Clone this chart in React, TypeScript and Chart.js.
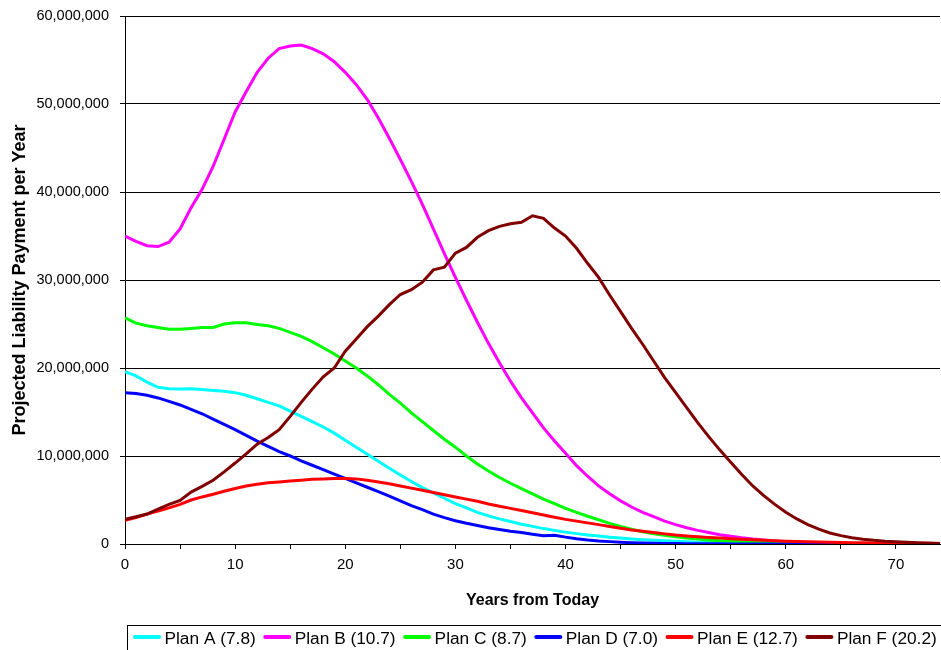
import React, { useEffect, useRef } from 'react';
import { Chart, registerables } from 'chart.js';

Chart.register(...registerables);

const FONT = "'Liberation Sans', Arial, Helvetica, sans-serif";

// Years from today (x categories)
const YEARS = [
  0, 1, 2, 3, 4, 5, 6, 7, 8, 9,
  10, 11, 12, 13, 14, 15, 16, 17, 18, 19,
  20, 21, 22, 23, 24, 25, 26, 27, 28, 29,
  30, 31, 32, 33, 34, 35, 36, 37, 38, 39,
  40, 41, 42, 43, 44, 45, 46, 47, 48, 49,
  50, 51, 52, 53, 54, 55, 56, 57, 58, 59,
  60, 61, 62, 63, 64, 65, 66, 67, 68, 69,
  70, 71, 72, 73, 74,
];

// Tick marks and labelled ticks on the x axis
const X_TICKS = [0, 5, 10, 15, 20, 25, 30, 35, 40, 45, 50, 55, 60, 65, 70];
const X_LABELS = [0, 10, 20, 30, 40, 50, 60, 70];
// y ticks in millions
const Y_TICKS = [0, 10, 20, 30, 40, 50, 60];

const SERIES_NAMES = [
  'Plan A (7.8)',
  'Plan B (10.7)',
  'Plan C (8.7)',
  'Plan D (7.0)',
  'Plan E (12.7)',
  'Plan F (20.2)',
];

const SERIES_COLORS = ['#00FFFF', '#FF00FF', '#00FF00', '#0000FF', '#FF0000', '#800000'];

// Projected liability payment per year, in millions
const PLAN_A = [
  19.6, 19.1, 18.4, 17.8, 17.65, 17.6, 17.65, 17.55, 17.45, 17.35,
  17.2, 16.9, 16.5, 16.1, 15.7, 15.1, 14.5, 13.9, 13.3, 12.6,
  11.8, 11.0, 10.2, 9.4, 8.6, 7.85, 7.1, 6.4, 5.8, 5.2,
  4.6, 4.1, 3.6, 3.2, 2.85, 2.55, 2.25, 2.0, 1.75, 1.55,
  1.35, 1.18, 1.03, 0.9, 0.78, 0.67, 0.57, 0.49, 0.42, 0.36,
  0.3, 0.25, 0.21, 0.17, 0.14, 0.11, 0.09, 0.07, 0.06, 0.05,
  0.04, 0.03, 0.025, 0.02, 0.015, 0.012, 0.01, 0.008, 0.006, 0.005,
  0.004, 0.003, 0.002, 0.002, 0.001,
];

const PLAN_B = [
  35.0, 34.4, 33.9, 33.8, 34.3, 35.8, 38.2, 40.3, 42.9, 46.0,
  49.1, 51.4, 53.6, 55.2, 56.3, 56.6, 56.7, 56.3, 55.7, 54.8,
  53.6, 52.2, 50.5, 48.4, 46.1, 43.7, 41.2, 38.6, 35.8, 33.0,
  30.3, 27.7, 25.2, 22.8, 20.6, 18.5, 16.6, 14.9, 13.2, 11.7,
  10.3, 8.9, 7.7, 6.6, 5.7, 4.9, 4.2, 3.6, 3.1, 2.6,
  2.2, 1.85, 1.55, 1.3, 1.05, 0.87, 0.7, 0.56, 0.45, 0.35,
  0.27, 0.2, 0.15, 0.11, 0.08, 0.06, 0.045, 0.035, 0.025, 0.02,
  0.015, 0.01, 0.008, 0.006, 0.004,
];

const PLAN_C = [
  25.7, 25.1, 24.8, 24.6, 24.4, 24.4, 24.5, 24.6, 24.6, 25.0,
  25.15, 25.15, 24.95, 24.8, 24.5, 24.05, 23.6, 23.0, 22.3, 21.6,
  20.8, 20.0, 19.1, 18.1, 17.0, 16.0, 14.9, 13.9, 12.9, 11.9,
  11.0, 10.0, 9.1, 8.3, 7.55, 6.9, 6.3, 5.7, 5.1, 4.6,
  4.05, 3.6, 3.15, 2.75, 2.35, 2.0, 1.68, 1.4, 1.17, 0.98,
  0.82, 0.68, 0.56, 0.46, 0.38, 0.31, 0.25, 0.2, 0.15, 0.12,
  0.09, 0.07, 0.05, 0.04, 0.03, 0.02, 0.015, 0.01, 0.008, 0.006,
  0.005, 0.004, 0.003, 0.002, 0.001,
];

const PLAN_D = [
  17.2, 17.1, 16.9, 16.6, 16.2, 15.8, 15.3, 14.8, 14.2, 13.6,
  13.0, 12.35, 11.7, 11.1, 10.5, 10.0, 9.45, 8.95, 8.45, 7.95,
  7.45, 6.95, 6.45, 5.95, 5.45, 4.9, 4.35, 3.9, 3.4, 3.0,
  2.65, 2.35, 2.1, 1.85, 1.65, 1.45, 1.3, 1.12, 0.95, 1.0,
  0.78, 0.6, 0.46, 0.35, 0.27, 0.2, 0.15, 0.11, 0.08, 0.06,
  0.045, 0.035, 0.025, 0.02, 0.015, 0.01, 0.008, 0.006, 0.005, 0.004,
  0.003, 0.002, 0.002, 0.001, 0.001, 0.001, 0, 0, 0, 0,
  0, 0, 0, 0, 0,
];

const PLAN_E = [
  2.7, 3.0, 3.4, 3.75, 4.1, 4.5, 5.0, 5.35, 5.65, 6.0,
  6.3, 6.6, 6.8, 6.95, 7.05, 7.15, 7.25, 7.35, 7.4, 7.45,
  7.45, 7.4, 7.25, 7.05, 6.85, 6.6, 6.35, 6.1, 5.85, 5.6,
  5.35, 5.1, 4.85, 4.55, 4.3, 4.05, 3.8, 3.55, 3.3, 3.05,
  2.8, 2.6, 2.4, 2.2, 2.0, 1.8, 1.6, 1.45, 1.3, 1.15,
  1.02, 0.92, 0.83, 0.75, 0.67, 0.6, 0.53, 0.47, 0.42, 0.37,
  0.32, 0.28, 0.25, 0.22, 0.19, 0.17, 0.15, 0.13, 0.11, 0.1,
  0.08, 0.07, 0.06, 0.05, 0.04,
];

const PLAN_F = [
  2.8, 3.1, 3.4, 3.95, 4.5, 4.95, 5.9, 6.55, 7.25, 8.2,
  9.2, 10.25, 11.35, 12.1, 13.0, 14.5, 16.1, 17.6, 19.0, 20.0,
  21.9, 23.3, 24.7, 25.9, 27.2, 28.35, 28.9, 29.75, 31.15, 31.45,
  33.05, 33.7, 34.85, 35.6, 36.1, 36.4, 36.55, 37.3, 37.0, 35.9,
  35.0, 33.6, 31.9, 30.3, 28.3, 26.4, 24.5, 22.7, 20.8, 18.9,
  17.2, 15.5, 13.8, 12.2, 10.7, 9.3, 7.9, 6.6, 5.5, 4.5,
  3.6, 2.85, 2.2, 1.7, 1.25, 0.95, 0.72, 0.55, 0.42, 0.32,
  0.25, 0.19, 0.14, 0.1, 0.07,
];

const SERIES_VALUES = [PLAN_A, PLAN_B, PLAN_C, PLAN_D, PLAN_E, PLAN_F];

const legendBoxPlugin = {
  id: 'legendBox',
  afterDraw(chart: any) {
    const ctx = chart.ctx as CanvasRenderingContext2D;
    ctx.save();
    ctx.strokeStyle = '#000';
    ctx.lineWidth = 1;
    ctx.strokeRect(127.5, 625.5, 900, 60);
    ctx.font = `17.3px ${FONT}`;
    ctx.textBaseline = 'alphabetic';
    ctx.textAlign = 'left';
    let x = 133;
    chart.data.datasets.forEach((ds: any) => {
      ctx.strokeStyle = ds.borderColor;
      ctx.lineWidth = 4;
      ctx.lineCap = 'round';
      ctx.beginPath();
      ctx.moveTo(x + 2, 637);
      ctx.lineTo(x + 26, 637);
      ctx.stroke();
      x += 28 + 3.5;
      ctx.fillStyle = '#000';
      ctx.fillText(ds.label, x, 644);
      x += ctx.measureText(ds.label).width + 7.5;
    });
    ctx.restore();
  },
};

export default function App() {
  const canvasRef = useRef<HTMLCanvasElement | null>(null);

  useEffect(() => {
    if (!canvasRef.current) return;
    Chart.defaults.font.family = FONT;
    const datasets = SERIES_VALUES.map((vals, i) => ({
      label: SERIES_NAMES[i],
      data: YEARS.map((yr, j) => ({ x: yr, y: vals[j] })),
      borderColor: SERIES_COLORS[i],
      backgroundColor: SERIES_COLORS[i],
      borderWidth: 3,
      pointRadius: 0,
      tension: 0,
      fill: false,
      order: SERIES_VALUES.length - 1 - i,
    }));

    const chart = new Chart(canvasRef.current, {
      type: 'line',
      data: { datasets },
      options: {
        responsive: false,
        animation: false,
        devicePixelRatio: 1,
        layout: { padding: { left: 0, top: 16, right: 1, bottom: 26 } },
        plugins: {
          legend: { display: false },
          tooltip: { enabled: false },
        },
        scales: {
          x: {
            type: 'linear',
            min: 0,
            max: 74,
            afterBuildTicks: (s: any) => {
              s.ticks = X_TICKS.map((v) => ({ value: v }));
            },
            afterFit: (s: any) => {
              s.height = 80;
            },
            ticks: {
              autoSkip: false,
              maxRotation: 0,
              padding: 7,
              color: '#000',
              font: { family: FONT, size: 15 },
              callback: (v: any) => (X_LABELS.includes(Number(v)) ? String(v) : ''),
            },
            grid: {
              drawOnChartArea: false,
              drawTicks: true,
              tickLength: 5,
              color: '#000',
            },
            border: { display: true, color: '#000', width: 1 },
            title: {
              display: true,
              text: 'Years from Today',
              color: '#000',
              font: { family: FONT, size: 16, weight: 'bold' },
              padding: { top: 0, bottom: 14 },
            },
          },
          y: {
            type: 'linear',
            min: 0,
            max: 60,
            afterBuildTicks: (s: any) => {
              s.ticks = Y_TICKS.map((v) => ({ value: v }));
            },
            afterFit: (s: any) => {
              s.width = 125;
              s.paddingTop = 4;
              s.paddingBottom = 4;
            },
            ticks: {
              padding: 11,
              color: '#000',
              font: { family: FONT, size: 14.5 },
              callback: (v: any) => (Number(v) * 1000000).toLocaleString('en-US'),
            },
            grid: {
              drawTicks: true,
              tickLength: 5,
              color: '#000',
            },
            border: { display: true, color: '#000', width: 1 },
            title: {
              display: true,
              text: 'Projected Liability Payment per Year',
              color: '#000',
              font: { family: FONT, size: 18, weight: 'bold' },
              padding: { top: 9, bottom: 0 },
            },
          },
        },
      } as any,
      plugins: [legendBoxPlugin],
    });

    return () => chart.destroy();
  }, []);

  return (
    <div style={{ position: 'absolute', left: 0, top: 0, width: 941, height: 650, background: '#fff' }}>
      <canvas ref={canvasRef} width={941} height={650} style={{ display: 'block' }} />
    </div>
  );
}
